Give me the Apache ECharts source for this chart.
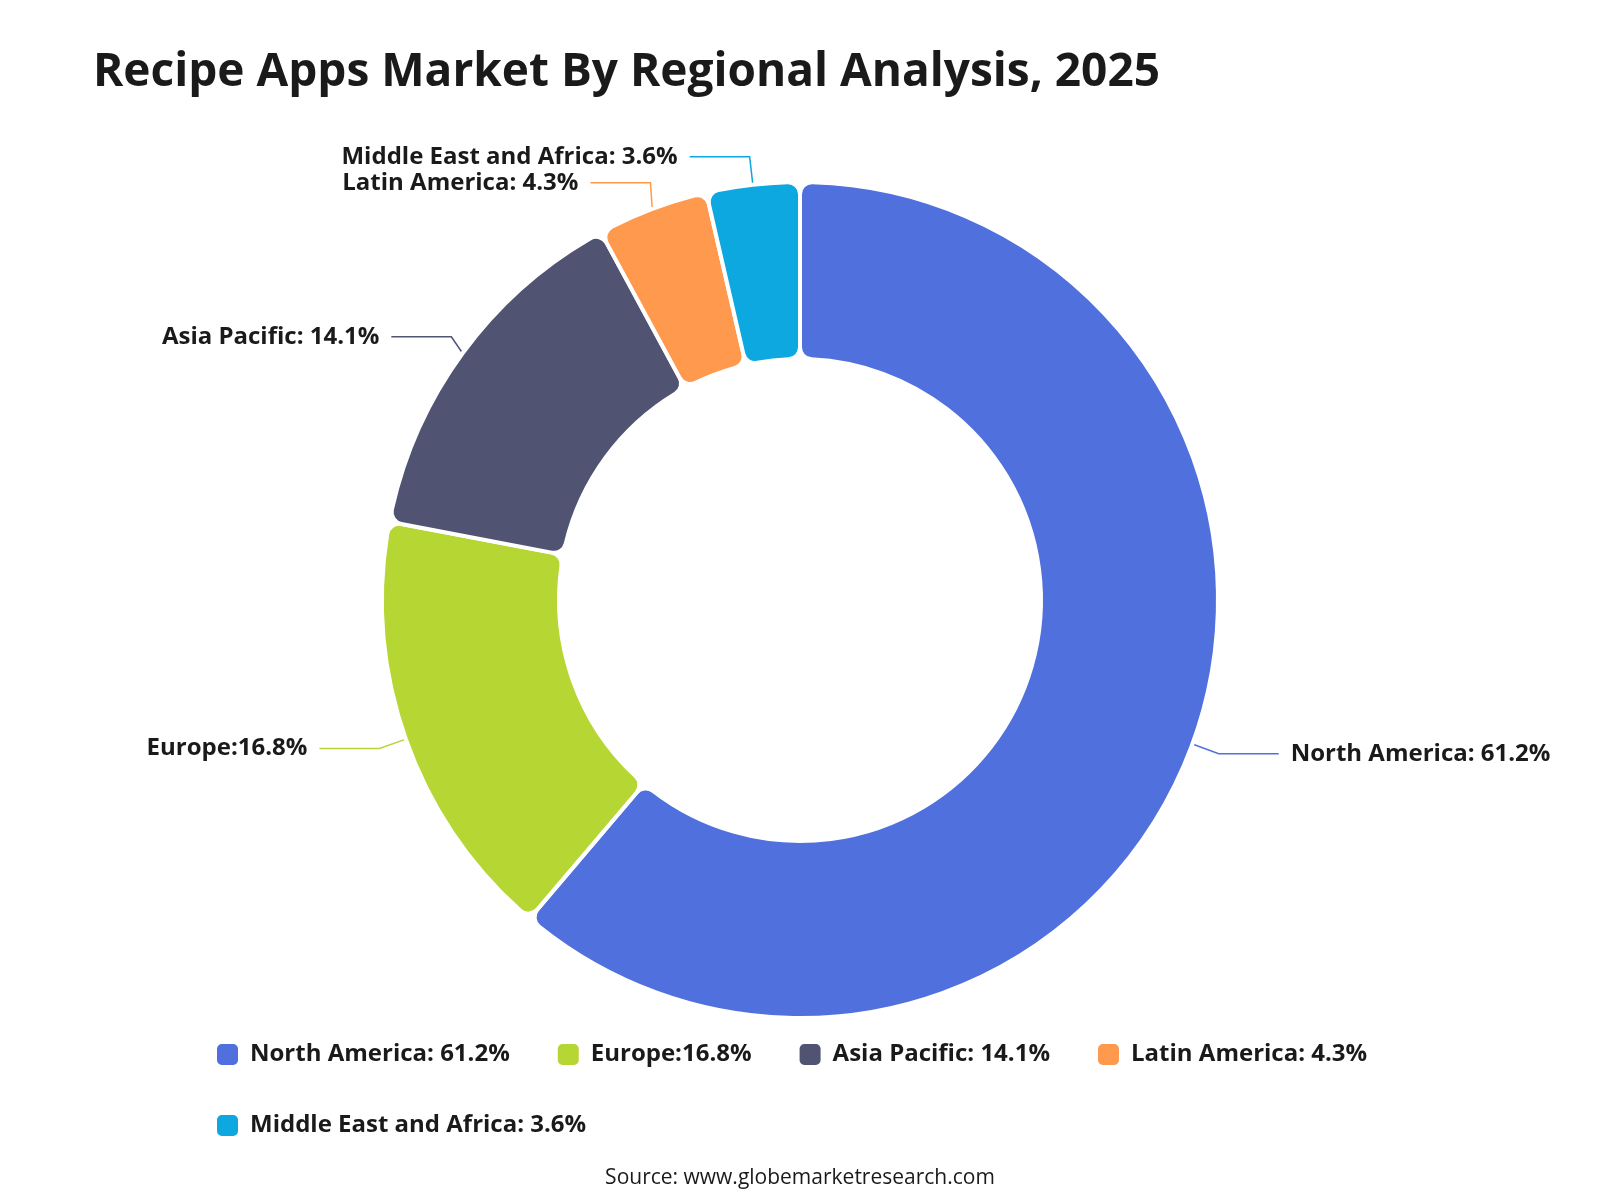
<!DOCTYPE html>
<html>
<head>
<meta charset="utf-8">
<script src="https://cdn.jsdelivr.net/npm/echarts@6/dist/echarts.min.js"></script>
<style>
  html, body { margin: 0; padding: 0; background: #fff; }
  #main { width: 1600px; height: 1200px; }
</style>
</head>
<body>
<div id="main"></div>
<script>
// region shares, clockwise from 12 o'clock
var regions = ['North America', 'Europe', 'Asia Pacific', 'Latin America', 'Middle East and Africa'];
var separators = [': ', ':', ': ', ': ', ': '];
var shares = [61.2, 16.8, 14.1, 4.3, 3.6];
var colors = ['#5070dd', '#b6d634', '#505372', '#ff994d', '#0ca8df'];

var FONT = 'Open Sans';

window.onload = function () {
  var chart = echarts.init(document.getElementById('main'));

  var pieData = regions.map(function (r, i) {
    return {
      name: r + separators[i] + shares[i] + '%',
      value: shares[i],
      itemStyle: { color: colors[i] }
    };
  });

  var option = {
    backgroundColor: '#fff',
    title: [
      {
        text: 'Recipe Apps Market By Regional Analysis, 2025',
        left: 88,
        top: 45,
        textStyle: { fontFamily: FONT, fontSize: 46, fontWeight: 'bold', color: '#1a1a1a' }
      },
      {
        text: 'Source: www.globemarketresearch.com',
        left: 'center',
        top: 1163,
        textStyle: { fontFamily: FONT, fontSize: 21, fontWeight: 'normal', color: '#1a1a1a' }
      }
    ],
    legend: {
      left: 210,
      top: 1037,
      width: 1200,
      itemWidth: 23,
      itemHeight: 23,
      itemGap: 46,
      icon: 'roundRect',
      textStyle: {
        fontFamily: FONT, fontSize: 24, fontWeight: 'bold', color: '#1a1a1a',
        padding: [0, 0, 0, 6], lineHeight: 25
      },
      data: pieData.map(function (d) { return d.name; })
    },
    series: [
      {
        type: 'pie',
        center: [800, 600],
        radius: [241, 418],
        startAngle: 90,
        clockwise: true,
        itemStyle: { borderColor: '#fff', borderWidth: 4, borderRadius: 12 },
        label: {
          show: true,
          formatter: '{b}',
          fontFamily: FONT,
          fontSize: 24,
          fontWeight: 'bold',
          color: '#1a1a1a',
          distanceToLabelLine: 12
        },
        labelLine: { length: 28, length2: 60, lineStyle: { width: 1.5 } },
        emphasis: { scale: false },
        data: pieData
      }
    ]
  };

  chart.setOption(option);
};
</script>
</body>
</html>
